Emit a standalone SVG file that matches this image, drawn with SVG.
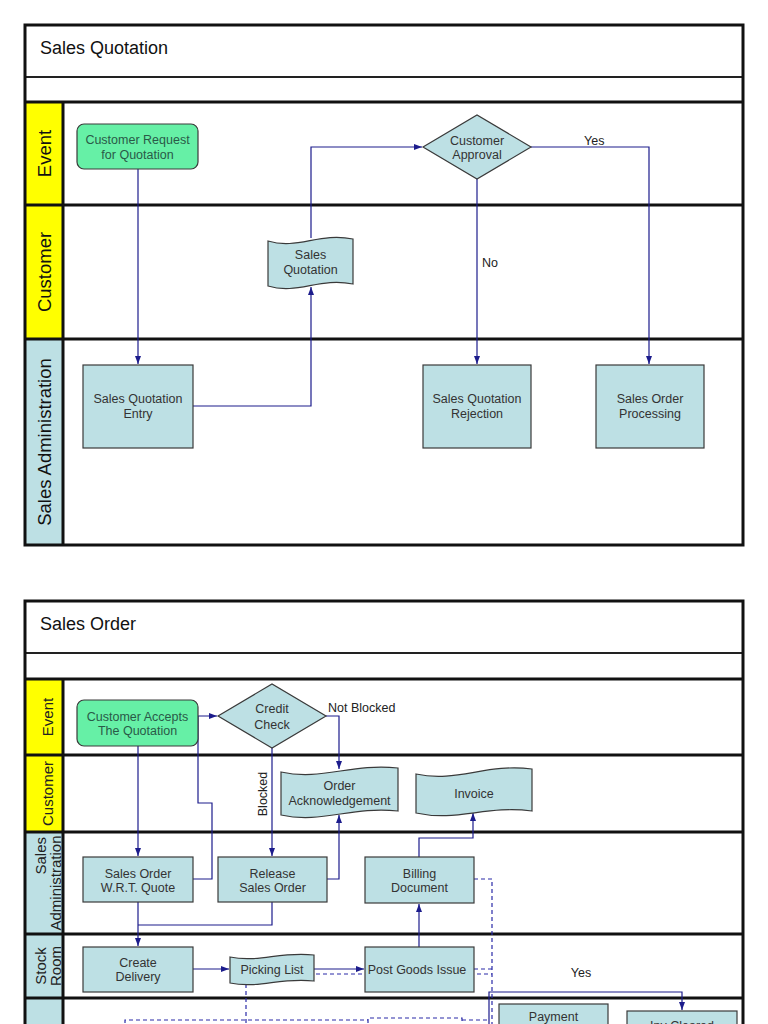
<svg xmlns="http://www.w3.org/2000/svg" width="768" height="1024" viewBox="0 0 768 1024">
<defs>
<marker id="ah" viewBox="0 0 8 6" refX="8" refY="3" markerWidth="8" markerHeight="6" markerUnits="userSpaceOnUse" orient="auto"><path d="M0,0 L8,3 L0,6 z" fill="#1c1c8c"/></marker>
<style>
.frame{fill:none;stroke:#111;stroke-width:3}
.sep{stroke:#111;stroke-width:3}
.thin{stroke:#222;stroke-width:2}
.yl{fill:#ffff00}
.bl{fill:#bde0e4}
.lane{font-family:"Liberation Sans",Arial,sans-serif;font-size:18.5px;fill:#111;text-anchor:middle}
.lane2{font-family:"Liberation Sans",Arial,sans-serif;font-size:15px;fill:#222;text-anchor:middle}
.title{font-family:"Liberation Sans",Arial,sans-serif;font-size:18px;fill:#111}
.box{fill:#bde0e4;stroke:#3a3a3a;stroke-width:1.2}
.ev{fill:#66f0a6;stroke:#3a3a3a;stroke-width:1.2}
.t{font-family:"Liberation Sans",Arial,sans-serif;font-size:12.5px;fill:#333;text-anchor:middle}
.tg{font-family:"Liberation Sans",Arial,sans-serif;font-size:12.5px;fill:#2a5a48;text-anchor:middle}
.lbl{font-family:"Liberation Sans",Arial,sans-serif;font-size:12.5px;fill:#222}
.c{fill:none;stroke:#1c1c8c;stroke-width:1.2}
.ca{fill:none;stroke:#1c1c8c;stroke-width:1.2;marker-end:url(#ah)}
.d{fill:none;stroke:#2a2aa8;stroke-width:1.2;stroke-dasharray:4 3}
</style>
</defs>
<rect width="768" height="1024" fill="#ffffff"/>

<!-- ===== Sales Quotation ===== -->
<g id="pool-quotation">
<rect class="yl" x="25" y="102" width="38" height="237"/>
<rect class="bl" x="25" y="339" width="38" height="206"/>
<line class="thin" x1="25" y1="77" x2="743" y2="77"/>
<line class="sep" x1="25" y1="102" x2="743" y2="102"/>
<line class="sep" x1="25" y1="205" x2="743" y2="205"/>
<line class="sep" x1="25" y1="339" x2="743" y2="339"/>
<line class="sep" x1="63" y1="102" x2="63" y2="545"/>
<rect class="frame" x="25" y="25" width="718" height="520"/>
<text class="title" x="40" y="54">Sales Quotation</text>
<text class="lane" transform="translate(51,153.5) rotate(-90)">Event</text>
<text class="lane" transform="translate(51,272) rotate(-90)">Customer</text>
<text class="lane" transform="translate(51,442) rotate(-90)">Sales Administration</text>
</g>

<g id="connectors-quotation">
<path class="ca" d="M138,169 V364"/>
<path class="ca" d="M193,406 H311 V287"/>
<path class="ca" d="M311,238 V147 H422"/>
<path class="ca" d="M531,147 H649 V364"/>
<path class="ca" d="M477,179 V364"/>
<text class="lbl" x="584" y="144.5">Yes</text>
<text class="lbl" x="482" y="266.5">No</text>
</g>

<g id="customer-request">
<rect class="ev" x="77" y="124" width="121" height="45" rx="7"/>
<text class="tg" x="137.5" y="144">Customer Request</text>
<text class="tg" x="137.5" y="159">for Quotation</text>
</g>
<g id="sales-quotation-doc">
<path class="box" d="M268,241 C298,250 319,232 353,239 L353,284 C319,277 298,295 268,286 Z"/>
<text class="t" x="310.5" y="259">Sales</text>
<text class="t" x="310.5" y="274">Quotation</text>
</g>
<g id="customer-approval">
<polygon class="box" points="423,147 477,115 531,147 477,179"/>
<text class="t" x="477" y="144.5">Customer</text>
<text class="t" x="477" y="159">Approval</text>
</g>
<g id="sales-quotation-entry">
<rect class="box" x="83" y="365" width="110" height="83"/>
<text class="t" x="138" y="403">Sales Quotation</text>
<text class="t" x="138" y="418">Entry</text>
</g>
<g id="sales-quotation-rejection">
<rect class="box" x="423" y="365" width="108" height="83"/>
<text class="t" x="477" y="403">Sales Quotation</text>
<text class="t" x="477" y="418">Rejection</text>
</g>
<g id="sales-order-processing">
<rect class="box" x="596" y="365" width="108" height="83"/>
<text class="t" x="650" y="403">Sales Order</text>
<text class="t" x="650" y="418">Processing</text>
</g>

<!-- ===== Sales Order ===== -->
<g id="pool-order">
<rect class="yl" x="25" y="679" width="38" height="153"/>
<rect class="bl" x="25" y="832" width="38" height="200"/>
<line class="thin" x1="25" y1="653" x2="743" y2="653"/>
<line class="sep" x1="25" y1="679" x2="743" y2="679"/>
<line class="sep" x1="25" y1="755" x2="743" y2="755"/>
<line class="sep" x1="25" y1="832" x2="743" y2="832"/>
<line class="sep" x1="25" y1="934" x2="743" y2="934"/>
<line class="sep" x1="25" y1="998" x2="743" y2="998"/>
<line class="sep" x1="63" y1="679" x2="63" y2="1030"/>
<path class="frame" d="M25,1030 V601 H743 V1030"/>
<text class="title" x="40" y="630">Sales Order</text>
<text class="lane2" transform="translate(53,717) rotate(-90)">Event</text>
<text class="lane2" transform="translate(53,793.5) rotate(-90)">Customer</text>
<text class="lane2" transform="translate(46,837) rotate(-90)" style="text-anchor:end">Sales</text>
<text class="lane2" transform="translate(61,883) rotate(-90)">Administration</text>
<text class="lane2" transform="translate(46,966) rotate(-90)">Stock</text>
<text class="lane2" transform="translate(61,966) rotate(-90)">Room</text>
</g>

<g id="connectors-order">
<path class="ca" d="M138,746 V856"/>
<path class="ca" d="M193,879 H212 V803 H198 V716 H217"/>
<path class="ca" d="M326,716 H339 V769"/>
<path class="ca" d="M272,748 V856"/>
<path class="ca" d="M327,879 H339 V815"/>
<path class="ca" d="M138,902 V946"/>
<path class="c" d="M272,902 V925 H138"/>
<path class="ca" d="M193,969 H229"/>
<path class="ca" d="M314,969 H364"/>
<path class="ca" d="M419,947 V904"/>
<path class="ca" d="M419,857 V838 H473 V813"/>
<path class="ca" d="M489,1030 V992 H682 V1010"/>
<path class="d" d="M474,879 H492 V1030"/>
<path class="d" d="M474,969 H492"/>
<path class="d" d="M246,1030 V974 H492"/>
<path class="d" d="M125,1030 V1020 H368"/>
<path class="d" d="M368,1030 V1018 H462 V1030"/>
<path class="d" d="M462,1020 H490"/>
<text class="lbl" x="328" y="712">Not Blocked</text>
<text class="lbl" transform="translate(267,794) rotate(-90)" style="text-anchor:middle">Blocked</text>
<text class="lbl" x="581" y="977" style="text-anchor:middle">Yes</text>
</g>

<g id="customer-accepts">
<rect class="ev" x="77" y="700" width="121" height="46" rx="7"/>
<text class="tg" x="137.5" y="721">Customer Accepts</text>
<text class="tg" x="137.5" y="735">The Quotation</text>
</g>
<g id="credit-check">
<polygon class="box" points="218,716 272,684 326,716 272,748"/>
<text class="t" x="272" y="713">Credit</text>
<text class="t" x="272" y="729">Check</text>
</g>
<g id="order-acknowledgement">
<path class="box" d="M281,772 C322,781 351,763 398,768 L398,811 C351,806 322,824 281,815 Z"/>
<text class="t" x="339.5" y="790">Order</text>
<text class="t" x="339.5" y="805">Acknowledgement</text>
</g>
<g id="invoice">
<path class="box" d="M416,774 C457,783 486,763 532,769 L532,811 C486,805 457,822 416,813 Z"/>
<text class="t" x="474" y="798">Invoice</text>
</g>
<g id="sales-order-wrt-quote">
<rect class="box" x="83" y="857" width="110" height="45"/>
<text class="t" x="138" y="877.5">Sales Order</text>
<text class="t" x="138" y="892">W.R.T. Quote</text>
</g>
<g id="release-sales-order">
<rect class="box" x="218" y="857" width="109" height="45"/>
<text class="t" x="272.5" y="877.5">Release</text>
<text class="t" x="272.5" y="892">Sales Order</text>
</g>
<g id="billing-document">
<rect class="box" x="365" y="857" width="109" height="46"/>
<text class="t" x="419.5" y="877.5">Billing</text>
<text class="t" x="419.5" y="892">Document</text>
</g>
<g id="create-delivery">
<rect class="box" x="83" y="947" width="110" height="45"/>
<text class="t" x="138" y="966.5">Create</text>
<text class="t" x="138" y="981">Delivery</text>
</g>
<g id="picking-list">
<path class="box" d="M230,957 C259,963 280,951 314,955 L314,981 C280,977 259,989 230,983 Z"/>
<text class="t" x="272" y="974">Picking List</text>
</g>
<g id="post-goods-issue">
<rect class="box" x="365" y="947" width="109" height="45"/>
<text class="t" x="417" y="974">Post Goods Issue</text>
</g>
<g id="payment">
<rect class="box" x="499" y="1004" width="109" height="30"/>
<text class="t" x="553.5" y="1021">Payment</text>
</g>
<g id="inv-cleared">
<rect class="box" x="627" y="1011" width="110" height="30"/>
<text class="t" x="682" y="1030">Inv Cleared</text>
</g>
</svg>
